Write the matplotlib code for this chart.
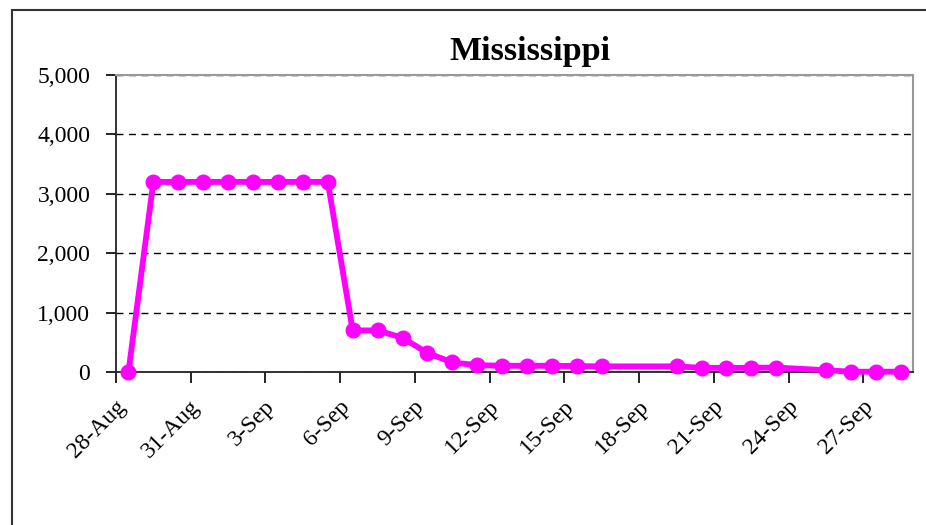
import matplotlib.pyplot as plt
import matplotlib.dates as mdates
from matplotlib.patches import Rectangle
from matplotlib.ticker import FuncFormatter, MultipleLocator
import numpy as np
import pandas as pd

plt.rcParams['font.family'] = ['Liberation Serif', 'DejaVu Serif']

# Data (daily values, some days missing)
dates = ['2005-08-28', '2005-08-29', '2005-08-30', '2005-08-31', '2005-09-01',
         '2005-09-02', '2005-09-03', '2005-09-04', '2005-09-05', '2005-09-06',
         '2005-09-07', '2005-09-08', '2005-09-09', '2005-09-10', '2005-09-11',
         '2005-09-12', '2005-09-13', '2005-09-14', '2005-09-15', '2005-09-16',
         '2005-09-19', '2005-09-20', '2005-09-21', '2005-09-22', '2005-09-23',
         '2005-09-25', '2005-09-26', '2005-09-27', '2005-09-28']
values = [0, 3200, 3200, 3200, 3200, 3200, 3200, 3200, 3200, 700,
          700, 575, 320, 160, 115, 105, 105, 105, 100, 95,
          95, 70, 70, 70, 75, 30, 5, 5, 5]
tick_dates = ['2005-08-28', '2005-08-31', '2005-09-03', '2005-09-06', '2005-09-09',
              '2005-09-12', '2005-09-15', '2005-09-18', '2005-09-21', '2005-09-24',
              '2005-09-27']
title = 'Mississippi'

x = pd.to_datetime(dates)
ticks = pd.to_datetime(tick_dates)

fig = plt.figure(figsize=(9.26, 5.25), dpi=100, facecolor='white')

# outer chart border (runs off the right and bottom edges)
fig.patches.append(Rectangle((12 / 926, -0.1), 1.2, 1 - 10 / 525 + 0.1,
                             transform=fig.transFigure, fill=False,
                             edgecolor='#333333', linewidth=1.5))

ax = fig.add_axes([116 / 926, 1 - 372 / 525, (913.3 - 116) / 926, (372 - 75) / 525])

ax.plot(x, values, color='#ff00ff', linewidth=4.2, marker='o',
        markersize=10.5, zorder=5, clip_on=False)

# date axis: each day occupies one slot, points in the middle
half = pd.Timedelta(hours=12)
ax.set_xlim(x[0] - half, x[-1] + half)
ax.set_ylim(0, 5000)

ax.set_xticks([t - half for t in ticks])
ax.xaxis.set_minor_locator(plt.NullLocator())
ax.set_xticklabels([])
shift = pd.Timedelta(hours=6)
for t in ticks:
    ax.text(mdates.date2num(t - shift), -0.105, f'{t.day}-{t.strftime("%b")}',
            transform=ax.get_xaxis_transform(), rotation=45,
            rotation_mode='anchor', ha='right', va='center', fontsize=17)

ax.yaxis.set_major_locator(MultipleLocator(1000))
ax.yaxis.set_major_formatter(FuncFormatter(lambda v, p: f'{int(v):,}'))
ax.tick_params(axis='y', direction='out', length=7, width=1.2, labelsize=17, pad=11.5)
ax.tick_params(axis='x', direction='out', length=8, width=1.2)

ax.grid(True, axis='y', color='black', linestyle=(0, (5, 4)), linewidth=1)
ax.set_axisbelow(True)

ax.spines['left'].set_color('#222222')
ax.spines['left'].set_linewidth(1.3)
ax.spines['bottom'].set_color('#222222')
ax.spines['bottom'].set_linewidth(1.3)
ax.spines['top'].set_color('#999999')
ax.spines['top'].set_linewidth(1.5)
ax.spines['right'].set_color('#999999')
ax.spines['right'].set_linewidth(1.5)

fig.text(530 / 926, 1 - 60 / 525, title, fontsize=24.5, fontweight='bold',
         ha='center', va='baseline')

plt.savefig('out.png', dpi=100, facecolor='white')
plt.close()
